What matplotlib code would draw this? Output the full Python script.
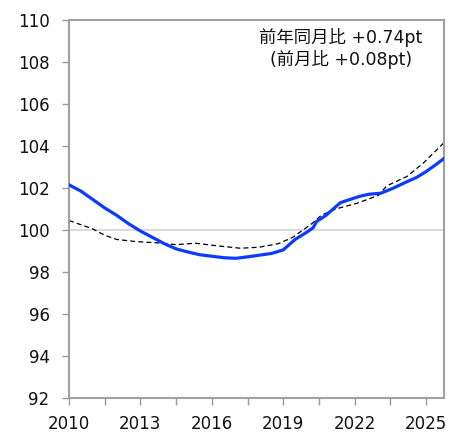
import matplotlib
matplotlib.use("Agg")
import matplotlib.pyplot as plt
import numpy as np

# blue (thick) series
blue_x = [2010.0, 2010.5, 2011.0, 2011.5, 2012.0, 2012.5, 2013.0, 2013.5, 2014.0, 2014.5,
          2015.0, 2015.5, 2016.0, 2016.5, 2017.0, 2017.5, 2018.0, 2018.5, 2019.0, 2019.5,
          2020.0, 2020.25, 2020.4, 2020.8, 2021.4, 2021.8, 2022.2, 2022.6, 2023.1, 2023.6,
          2024.2, 2024.6, 2025.0, 2025.4, 2025.75]
blue_y = [102.15, 101.85, 101.45, 101.05, 100.7, 100.3, 99.95, 99.65, 99.35, 99.1,
          98.95, 98.82, 98.75, 98.68, 98.65, 98.72, 98.8, 98.88, 99.05, 99.55,
          99.9, 100.1, 100.4, 100.7, 101.3, 101.45, 101.6, 101.7, 101.75, 101.98,
          102.3, 102.5, 102.78, 103.1, 103.4]

# dashed comparison series
dash_x = [2010.0, 2010.5, 2011.0, 2011.5, 2012.0, 2012.8, 2013.8, 2014.5, 2015.3, 2016.2,
          2017.2, 2018.0, 2018.8, 2019.4, 2020.2, 2020.6, 2021.2, 2022.1, 2023.0, 2023.35,
          2024.2, 2024.9, 2025.75]
dash_y = [100.45, 100.25, 100.05, 99.75, 99.55, 99.45, 99.38, 99.3, 99.37, 99.25,
          99.13, 99.18, 99.35, 99.65, 100.3, 100.7, 101.0, 101.27, 101.65, 102.1,
          102.55, 103.2, 104.15]

x_labels = [2010, 2013, 2016, 2019, 2022, 2025]
y_ticks = list(range(92, 111, 2))
note = "前年同月比 +0.74pt\n(前月比 +0.08pt)"

plt.rcParams["font.family"] = ["DejaVu Sans", "Noto Sans CJK JP"]
fig = plt.figure(figsize=(4.6, 4.34), dpi=100)
ax = fig.add_axes([0.15, 0.083, 0.815, 0.871])

ax.axhline(100, color="#d9d9d9", lw=1.4, zorder=1)
ax.plot(dash_x, dash_y, color="black", lw=0.9, ls=(0, (4, 2.5)), zorder=2)
ax.plot(blue_x, blue_y, color="#0a3cff", lw=2.3, zorder=3)

ax.set_xlim(2010, 2025.75)
ax.set_ylim(92, 110)
ax.set_yticks(y_ticks)
ax.set_xticks(np.arange(2010, 2026, 1.5))
ax.set_xticklabels([str(int(v)) if v in x_labels else "" for v in np.arange(2010, 2026, 1.5)])
ax.tick_params(axis="both", direction="out", length=5, width=1, color="#999999",
               labelsize=12, labelcolor="#111111")
ax.tick_params(axis="y", pad=9)
ax.tick_params(axis="x", pad=7)
for s in ax.spines.values():
    s.set_color("#a0a0a0")
    s.set_linewidth(1.5)

ax.text(0.725, 0.98, note, transform=ax.transAxes, ha="center", va="top",
        fontsize=12.5, family=["DejaVu Sans", "Noto Sans CJK JP"], linespacing=1.22,
        color="#111111")

fig.savefig("out.png", dpi=100)
